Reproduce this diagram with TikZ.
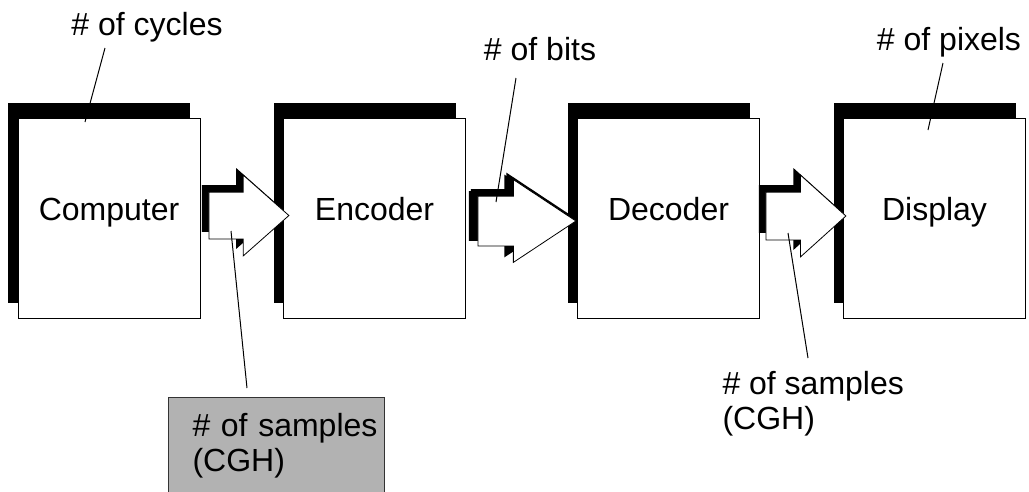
\documentclass[tikz,border=0pt]{standalone}
\usepackage{fontspec}
\setmainfont{Liberation Sans}
\usetikzlibrary{positioning,shapes.arrows,shadows}

\begin{document}
\begin{tikzpicture}[x=1pt,y=-1pt,line width=1pt,
  font=\fontsize{32}{35}\selectfont,
  stage/.style={draw,fill=white,minimum width=182pt,minimum height=200pt,
    text height=20pt,text depth=16pt,
    drop shadow={shadow xshift=-10pt,shadow yshift=15pt,opacity=1,fill=black}},
  flow/.style={single arrow,draw,fill=white,inner xsep=0pt,line width=0.8pt,
    drop shadow={shadow xshift=-7pt,shadow yshift=7pt,opacity=1,fill=black}}]
\useasboundingbox (0,0) rectangle (1029,491);

% the four stages
\node[stage] (computer) at (109,218) {Computer};
\node[stage] (encoder) at (374.5,218) {Encoder};
\node[stage] (decoder) at (668.5,218) {Decoder};
\node[stage] (display) at (934.5,218) {Display};

% data flowing between them (shaft from inner ysep, head from extend)
\node[flow,right=8pt of computer,yshift=2.5pt,minimum height=80pt,inner ysep=23pt,
  single arrow head extend=17pt,single arrow tip angle=83] (samplesin) {};
\node[flow,right=11.5pt of encoder,yshift=-3pt,minimum height=98pt,inner ysep=24.5pt,
  single arrow head extend=16.5pt,single arrow tip angle=67,
  drop shadow={shadow xshift=-9pt,shadow yshift=5pt,opacity=1,fill=black}] (bits) {};
\node[flow,right=5.5pt of decoder,yshift=2pt,minimum height=80pt,inner ysep=23.5pt,
  single arrow head extend=17pt,single arrow tip angle=84] (samplesout) {};

% cost labels
\node[anchor=base] (cycles) at (147,35) {\# of cycles};
\node[anchor=base] (nbits) at (540,60) {\# of bits};
\node[anchor=base] (pixels) at (949,50) {\# of pixels};
\node[draw=black!80,fill=black!30,anchor=north west,align=left,text width=168pt,
  inner xsep=24pt,inner ysep=16pt] (cghin) at (168,397)
  {\mbox{\# of samples}\\(CGH)};
\node[anchor=north west,align=left,inner sep=0pt] (cghout) at (722,371)
  {\# of samples\\(CGH)};

% leader lines
\coordinate (cycles-a) at (105,48);  \coordinate (cycles-b) at (85,122);
\coordinate (bits-a) at (516,78);    \coordinate (bits-b) at (496,202);
\coordinate (pixels-a) at (943,63);  \coordinate (pixels-b) at (928,130);
\coordinate (cghin-a) at (231,231);  \coordinate (cghin-b) at (247,388);
\coordinate (cghout-a) at (788,233); \coordinate (cghout-b) at (808,358);
\draw (cycles-a) -- (cycles-b);
\draw (bits-a) -- (bits-b);
\draw (pixels-a) -- (pixels-b);
\draw (cghin-a) -- (cghin-b);
\draw (cghout-a) -- (cghout-b);
\end{tikzpicture}
\end{document}
